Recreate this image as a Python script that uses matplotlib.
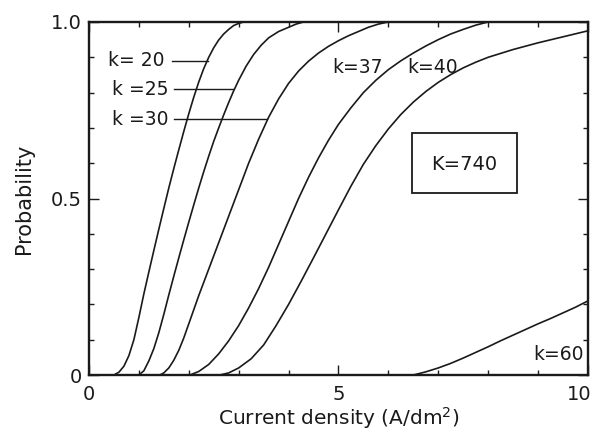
import numpy as np
import matplotlib
matplotlib.use("Agg")
import matplotlib.pyplot as plt
from matplotlib.ticker import MultipleLocator
from matplotlib.patches import Rectangle
import matplotlib.transforms as mtransforms

# breakdown probability vs current density for several k values
k20_x = [0.5, 0.6, 0.7, 0.8, 0.9, 1.0, 1.1, 1.2, 1.3, 1.4, 1.5, 1.6, 1.7, 1.8, 1.9, 2.0,
         2.1, 2.2, 2.3, 2.4, 2.5, 2.6, 2.7, 2.8, 2.9, 3.0, 3.1]
k20_p = [0.0, 0.008, 0.025, 0.055, 0.10, 0.163, 0.23, 0.292, 0.353, 0.413, 0.472, 0.53,
         0.585, 0.638, 0.69, 0.74, 0.787, 0.83, 0.868, 0.90, 0.927, 0.949, 0.966, 0.979,
         0.99, 0.996, 1.0]

k25_x = [1.0, 1.1, 1.2, 1.3, 1.4, 1.5, 1.6, 1.7, 1.8, 1.9, 2.0, 2.1, 2.2, 2.3, 2.4, 2.5,
         2.6, 2.7, 2.8, 2.9, 3.0, 3.15, 3.3, 3.45, 3.6, 3.8, 4.0, 4.15, 4.3]
k25_p = [0.0, 0.012, 0.04, 0.075, 0.12, 0.172, 0.227, 0.28, 0.332, 0.383, 0.433, 0.482,
         0.53, 0.576, 0.62, 0.662, 0.70, 0.737, 0.772, 0.805, 0.835, 0.875, 0.908, 0.934,
         0.955, 0.973, 0.985, 0.994, 1.0]

k30_x = [1.42, 1.5, 1.6, 1.7, 1.8, 1.9, 2.0, 2.2, 2.4, 2.6, 2.8, 3.0, 3.2, 3.4, 3.6, 3.8,
         4.0, 4.2, 4.4, 4.6, 4.8, 5.0, 5.2, 5.4, 5.6, 5.8, 6.0]
k30_p = [0.0, 0.006, 0.02, 0.042, 0.07, 0.105, 0.145, 0.225, 0.30, 0.375, 0.45, 0.525,
         0.60, 0.668, 0.73, 0.782, 0.826, 0.861, 0.889, 0.912, 0.931, 0.947, 0.961, 0.973,
         0.985, 0.994, 1.0]

k37_x = [2.02, 2.2, 2.4, 2.6, 2.8, 3.0, 3.2, 3.4, 3.6, 3.8, 4.0, 4.2, 4.4, 4.6, 4.8, 5.0,
         5.25, 5.5, 5.75, 6.0, 6.25, 6.5, 6.75, 7.0, 7.25, 7.5, 7.75, 8.0]
k37_p = [0.0, 0.01, 0.03, 0.06, 0.097, 0.14, 0.19, 0.245, 0.305, 0.37, 0.435, 0.5, 0.56,
         0.615, 0.665, 0.71, 0.757, 0.8, 0.835, 0.865, 0.89, 0.912, 0.932, 0.95, 0.966,
         0.979, 0.991, 1.0]

k40_x = [2.62, 2.8, 3.0, 3.25, 3.5, 3.75, 4.0, 4.25, 4.5, 4.75, 5.0, 5.25, 5.5, 5.75, 6.0,
         6.25, 6.5, 6.75, 7.0, 7.25, 7.5, 7.75, 8.0, 8.5, 9.0, 9.5, 10.0]
k40_p = [0.0, 0.006, 0.02, 0.046, 0.085, 0.14, 0.2, 0.265, 0.332, 0.4, 0.468, 0.535, 0.597,
         0.65, 0.697, 0.738, 0.773, 0.803, 0.829, 0.851, 0.87, 0.886, 0.9, 0.922, 0.941,
         0.958, 0.975]

k60_x = [6.5, 6.75, 7.0, 7.25, 7.5, 7.75, 8.0, 8.25, 8.5, 8.75, 9.0, 9.25, 9.5, 9.75, 10.0]
k60_p = [0.0, 0.009, 0.02, 0.033, 0.048, 0.064, 0.08, 0.097, 0.113, 0.129, 0.145, 0.16,
         0.176, 0.192, 0.21]

ink = "#1a1a1a"
plt.rcParams["font.family"] = ["DejaVu Sans"]

fig = plt.figure(figsize=(5.94, 4.38), dpi=100)
ax = fig.add_axes([0.1498, 0.1438, 0.840, 0.806])

for xs, ps in [(k20_x, k20_p), (k25_x, k25_p), (k30_x, k30_p),
               (k37_x, k37_p), (k40_x, k40_p), (k60_x, k60_p)]:
    ax.plot(xs, ps, color=ink, lw=1.2, solid_joinstyle="round")

ax.set_xlim(0, 10)
ax.set_ylim(0, 1)
ax.set_xticks([0, 5, 10])
ax.set_xticklabels(["0", "5", "10"])
ax.set_yticks([0, 0.5, 1.0])
ax.set_yticklabels(["0", "0.5", "1.0"])
ax.xaxis.set_minor_locator(MultipleLocator(1))
ax.yaxis.set_minor_locator(MultipleLocator(0.1))
ax.tick_params(which="both", direction="in", top=True, right=True,
               colors=ink, labelsize=14, width=1.0)
ax.tick_params(which="major", length=7)
ax.tick_params(axis="y", which="major", pad=5)
ax.tick_params(axis="x", which="major", pad=7)
ax.tick_params(which="minor", length=3.5)
for s in ax.spines.values():
    s.set_linewidth(1.7)
    s.set_color(ink)

# pull the last x tick label in so it stays on the canvas
last = ax.get_xticklabels()[-1]
last.set_transform(last.get_transform() +
                   mtransforms.ScaledTranslation(-6 / 72, 0, fig.dpi_scale_trans))

ax.set_xlabel("Current density (A/dm$^2$)", fontsize=14.5, color=ink, labelpad=1)
ax.set_ylabel("Probability", fontsize=15, color=ink, labelpad=12)

# labels with leader lines to their curves
lab = dict(fontsize=13.5, color=ink, va="center")
ax.text(0.38, 0.89, "k= 20", **lab)
ax.plot([1.66, 2.38], [0.89, 0.89], color=ink, lw=1.0)
ax.text(0.46, 0.81, "k =25", **lab)
ax.plot([1.7, 2.89], [0.81, 0.81], color=ink, lw=1.0)
ax.text(0.46, 0.725, "k =30", **lab)
ax.plot([1.7, 3.57], [0.725, 0.725], color=ink, lw=1.0)
ax.text(4.88, 0.87, "k=37", **lab)
ax.text(6.38, 0.87, "k=40", **lab)
ax.text(9.92, 0.058, "k=60", ha="right", **lab)

ax.add_patch(Rectangle((6.47, 0.516), 2.11, 0.17, fill=False, ec=ink, lw=1.3))
ax.text(7.52, 0.595, "K=740", fontsize=14, color=ink, ha="center", va="center")

fig.savefig("out.png", dpi=100)
